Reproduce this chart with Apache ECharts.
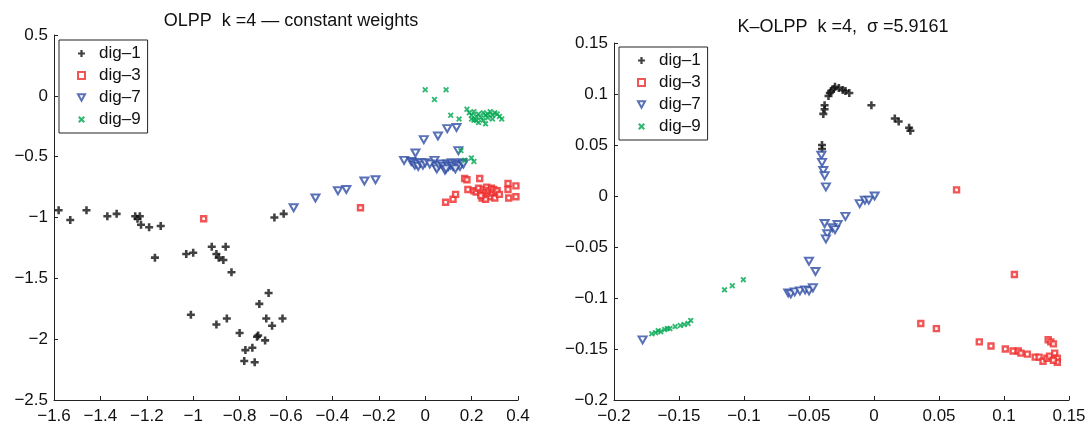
<!DOCTYPE html>
<html>
<head>
<meta charset="utf-8">
<script src="https://cdn.jsdelivr.net/npm/echarts@6/dist/echarts.min.js"></script>
<style>
html,body{margin:0;padding:0;background:#fff;}
#chart{width:1090px;height:430px;}
</style>
</head>
<body>
<div id="chart"></div>
<script>
// ---------- data ----------
const seriesNames = ['dig–1', 'dig–3', 'dig–7', 'dig–9'];
const leftTitle = 'OLPP  k =4 — constant weights';
const rightTitle = 'K–OLPP  k =4,  σ =5.9161';

const leftXTicks = ['−1.6','−1.4','−1.2','−1','−0.8','−0.6','−0.4','−0.2','0','0.2','0.4'];
const leftYTicks = ['−2.5','−2','−1.5','−1','−0.5','0','0.5'];
const rightXTicks = ['−0.2','−0.15','−0.1','−0.05','0','0.05','0.1','0.15'];
const rightYTicks = ['−0.2','−0.15','−0.1','−0.05','0','0.05','0.1','0.15'];

const leftDig1 = [[-1.58,-0.94],[-1.53,-1.02],[-1.46,-0.94],[-1.37,-0.99],[-1.33,-0.97],[-1.25,-0.99],[-1.24,-1.01],[-1.23,-0.99],[-1.225,-1.06],[-1.19,-1.08],[-1.14,-1.07],[-1.165,-1.33],[-1.03,-1.30],[-1.0,-1.29],[-0.92,-1.24],[-0.86,-1.24],[-0.90,-1.30],[-0.89,-1.33],[-0.87,-1.35],[-0.835,-1.45],[-0.65,-1.0],[-0.61,-0.97],[-0.675,-1.62],[-0.715,-1.71],[-1.01,-1.80],[-0.90,-1.88],[-0.855,-1.83],[-0.80,-1.95],[-0.685,-1.83],[-0.615,-1.83],[-0.66,-1.89],[-0.725,-1.98],[-0.72,-1.97],[-0.69,-2.01],[-0.745,-2.07],[-0.775,-2.09],[-0.78,-2.18],[-0.735,-2.19]];
const leftDig3 = [[-0.955,-1.01],[-0.279,-0.92],[0.088,-0.875],[0.12,-0.85],[0.131,-0.81],[0.17,-0.68],[0.18,-0.69],[0.235,-0.68],[0.184,-0.77],[0.21,-0.78],[0.22,-0.79],[0.23,-0.76],[0.24,-0.8],[0.245,-0.84],[0.25,-0.77],[0.255,-0.82],[0.26,-0.79],[0.265,-0.75],[0.27,-0.81],[0.275,-0.78],[0.28,-0.83],[0.285,-0.76],[0.29,-0.8],[0.295,-0.77],[0.3,-0.84],[0.305,-0.79],[0.31,-0.78],[0.32,-0.81],[0.26,-0.85],[0.24,-0.82],[0.357,-0.72],[0.391,-0.74],[0.357,-0.77],[0.36,-0.84],[0.391,-0.83]];
const leftDig7 = [[-0.567,-0.92],[-0.473,-0.84],[-0.376,-0.78],[-0.34,-0.77],[-0.262,-0.70],[-0.214,-0.69],[-0.091,-0.53],[-0.042,-0.47],[-0.006,-0.36],[0.055,-0.33],[0.095,-0.27],[0.135,-0.26],[0.143,-0.45],[-0.06,-0.54],[-0.05,-0.55],[-0.045,-0.57],[-0.035,-0.56],[-0.03,-0.58],[-0.02,-0.55],[-0.01,-0.57],[0.0,-0.55],[0.04,-0.53],[0.045,-0.58],[0.05,-0.60],[0.06,-0.57],[0.07,-0.56],[0.08,-0.58],[0.085,-0.61],[0.095,-0.56],[0.1,-0.58],[0.11,-0.57],[0.115,-0.55],[0.12,-0.58],[0.13,-0.56],[0.14,-0.57],[0.15,-0.58],[0.16,-0.55],[0.165,-0.56],[0.02,-0.56],[0.09,-0.6],[0.13,-0.6]];
const leftDig9 = [[0.0,0.05],[0.09,0.05],[0.04,-0.03],[0.11,-0.16],[0.146,-0.19],[0.18,-0.11],[0.19,-0.14],[0.2,-0.16],[0.2,-0.19],[0.21,-0.13],[0.22,-0.17],[0.22,-0.2],[0.23,-0.15],[0.24,-0.18],[0.25,-0.14],[0.25,-0.2],[0.26,-0.16],[0.26,-0.23],[0.27,-0.15],[0.27,-0.18],[0.28,-0.13],[0.29,-0.16],[0.29,-0.19],[0.3,-0.14],[0.31,-0.15],[0.32,-0.17],[0.33,-0.19],[0.21,-0.2],[0.23,-0.22],[0.154,-0.45],[0.17,-0.53],[0.199,-0.51],[0.21,-0.54]];

const rightDig1 = [[-0.039,0.0805],[-0.038,0.089],[-0.038,0.085],[-0.04,0.046],[-0.04,0.05],[-0.035,0.098],[-0.033,0.103],[-0.03,0.107],[-0.027,0.106],[-0.024,0.104],[-0.022,0.103],[-0.019,0.101],[-0.002,0.089],[0.016,0.076],[0.019,0.073],[0.027,0.067],[0.028,0.064],[-0.031,0.105],[-0.034,0.101]];
const rightDig3 = [[0.0635,0.006],[0.108,-0.077],[0.036,-0.125],[0.048,-0.13],[0.081,-0.143],[0.09,-0.147],[0.101,-0.15],[0.107,-0.152],[0.111,-0.152],[0.113,-0.154],[0.118,-0.155],[0.124,-0.158],[0.127,-0.158],[0.134,-0.141],[0.136,-0.143],[0.138,-0.145],[0.13,-0.162],[0.133,-0.159],[0.135,-0.157],[0.139,-0.154],[0.141,-0.159],[0.141,-0.163],[0.138,-0.161]];
const rightDig7 = [[-0.0405,0.04],[-0.04,0.033],[-0.039,0.025],[-0.038,0.02],[-0.037,0.009],[-0.011,-0.0075],[-0.007,-0.004],[-0.004,-0.004],[0.0005,0.0],[-0.022,-0.02],[-0.038,-0.027],[-0.028,-0.028],[-0.032,-0.031],[-0.036,-0.037],[-0.037,-0.042],[-0.03,-0.033],[-0.05,-0.064],[-0.045,-0.074],[-0.066,-0.095],[-0.064,-0.096],[-0.061,-0.094],[-0.057,-0.093],[-0.053,-0.092],[-0.05,-0.093],[-0.047,-0.09],[-0.178,-0.141]];
const rightDig9 = [[-0.1005,-0.082],[-0.109,-0.088],[-0.115,-0.092],[-0.141,-0.122],[-0.143,-0.125],[-0.149,-0.127],[-0.153,-0.128],[-0.157,-0.13],[-0.161,-0.131],[-0.164,-0.133],[-0.168,-0.134],[-0.171,-0.135],[-0.166,-0.132],[-0.159,-0.13],[-0.146,-0.126]];

// ---------- styles ----------
const FONT = 'Liberation Sans, Arial, Helvetica, sans-serif';
const PLUS = 'path://M3.4,0 L6.6,0 L6.6,3.4 L10,3.4 L10,6.6 L6.6,6.6 L6.6,10 L3.4,10 L3.4,6.6 L0,6.6 L0,3.4 L3.4,3.4 Z';
const CROSS = 'path://M0,2.2 L2.2,0 L5,2.8 L7.8,0 L10,2.2 L7.2,5 L10,7.8 L7.8,10 L5,7.2 L2.2,10 L0,7.8 L2.8,5 Z';
const DOWNTRI = 'path://M0,0 L10,0 L5,9 Z';
const styles = [
  {symbol: PLUS, symbolSize: 8, itemStyle: {color: '#111'}},
  {symbol: 'rect', symbolSize: 5, itemStyle: {color: '#fff', borderColor: '#ee2a2a', borderWidth: 2.4}},
  {symbol: 'triangle', symbolSize: [8, 7], symbolRotate: 180, itemStyle: {color: '#fff', borderColor: '#2f4ea4', borderWidth: 2}},
  {symbol: CROSS, symbolSize: 6, itemStyle: {color: '#00a651'}}
];

function fmt(labels, min, step) {
  return function (v) { const i = Math.round((v - min) / step); return labels[i] !== undefined ? labels[i] : ''; };
}
function mkAxis(idx, min, max, step, labels, isY) {
  return {
    type: 'value', gridIndex: idx, min: min, max: max, interval: step,
    axisLine: {show: true, onZero: false, lineStyle: {color: '#222', width: 1}},
    axisTick: {show: true, inside: true, length: 4, lineStyle: {color: '#222'}},
    splitLine: {show: false},
    axisLabel: {color: '#111', fontFamily: FONT, fontSize: 17, margin: isY ? 6 : 8, formatter: fmt(labels, min, step)}
  };
}
function mkSeries(data, k, idx) {
  return Object.assign({type: 'scatter', name: seriesNames[k], xAxisIndex: idx, yAxisIndex: idx, data: data, animation: false}, styles[k]);
}
function mkLegend(left, top) {
  return {
    orient: 'vertical', left: left, top: top,
    data: [
      {name: seriesNames[0]},
      {name: seriesNames[1]},
      {name: seriesNames[2], icon: DOWNTRI},
      {name: seriesNames[3]}
    ],
    backgroundColor: '#fff', borderColor: '#222', borderWidth: 1,
    padding: [5, 7, 5, 18], itemWidth: 7, itemHeight: 7, itemGap: 5,
    textStyle: {fontFamily: FONT, fontSize: 17, color: '#111', padding: [0, 0, 0, 9]}
  };
}

const chart = echarts.init(document.getElementById('chart'), null, {renderer: 'canvas'});
chart.setOption({
  animation: false,
  backgroundColor: '#fff',
  title: [
    {text: leftTitle, left: 286, top: 7, textAlign: 'center', textStyle: {fontFamily: FONT, fontSize: 18, fontWeight: 'normal', color: '#111'}},
    {text: rightTitle, left: 838, top: 13, textAlign: 'center', textStyle: {fontFamily: FONT, fontSize: 18, fontWeight: 'normal', color: '#111'}}
  ],
  grid: [
    {left: 54, top: 35, width: 464, height: 365},
    {left: 614, top: 43, width: 455, height: 357}
  ],
  xAxis: [mkAxis(0, -1.6, 0.4, 0.2, leftXTicks, false), mkAxis(1, -0.2, 0.15, 0.05, rightXTicks, false)],
  yAxis: [mkAxis(0, -2.5, 0.5, 0.5, leftYTicks, true), mkAxis(1, -0.2, 0.15, 0.05, rightYTicks, true)],
  legend: [mkLegend(59, 40), mkLegend(619, 47)],
  series: [
    mkSeries(leftDig1, 0, 0), mkSeries(leftDig3, 1, 0), mkSeries(leftDig7, 2, 0), mkSeries(leftDig9, 3, 0),
    mkSeries(rightDig1, 0, 1), mkSeries(rightDig3, 1, 1), mkSeries(rightDig7, 2, 1), mkSeries(rightDig9, 3, 1)
  ]
});
</script>
</body>
</html>
